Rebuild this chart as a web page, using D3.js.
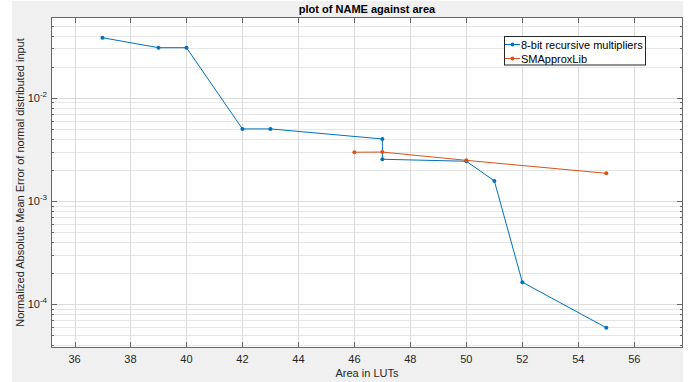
<!DOCTYPE html>
<html>
<head>
<meta charset="utf-8">
<script src="https://cdn.jsdelivr.net/npm/d3@7"></script>
<style>
  html, body { margin: 0; padding: 0; background: #fff; }
  svg { display: block; font-family: "Liberation Sans", Arial, sans-serif; }
</style>
</head>
<body>
<div id="chart"></div>
<script>
// data
const recursiveArea = [37, 39, 40, 42, 43, 47, 47, 50, 51, 52, 55];
const recursiveErr  = [0.0381, 0.0305, 0.0305, 0.00498, 0.00498, 0.00398, 0.00253, 0.00242, 0.00156, 0.000163, 0.0000589];
const smaArea = [46, 47, 50, 55];
const smaErr  = [0.00296, 0.00297, 0.00247, 0.00185];
const xTicks = [36, 38, 40, 42, 44, 46, 48, 50, 52, 54, 56];
const yTicks = [1e-4, 1e-3, 1e-2];
const seriesNames = ["8-bit recursive multipliers", "SMApproxLib"];
const seriesColors = ["#0072BD", "#D95319"];

const width = 697, height = 382;
// plot box edges
const pl = 51, pr = 683, pt = 17, pb = 348;

const svg = d3.select("#chart").append("svg")
  .attr("width", width)
  .attr("height", height);

// figure background
svg.append("rect")
  .attr("x", 12).attr("y", 1)
  .attr("width", pr - 12).attr("height", height - 1)
  .attr("fill", "#f0f0f0");

svg.append("rect")
  .attr("x", pl).attr("y", pt)
  .attr("width", pr - pl).attr("height", pb - pt)
  .attr("fill", "#fff");

const x = d3.scaleLinear().domain([35.16, 57.74]).range([pl, pr]);
const y = d3.scaleLog().domain([3.75e-5, 0.0605]).range([pb, pt]);

// minor log ticks
const minorTicks = [];
for (let e = -5; e <= -2; e++) {
  for (let m = 2; m <= 9; m++) {
    const v = m * Math.pow(10, e);
    if (v >= y.domain()[0] && v <= y.domain()[1]) minorTicks.push(v);
  }
}

const grid = svg.append("g");
grid.selectAll(".ymin").data(minorTicks).enter().append("line")
  .attr("x1", pl).attr("x2", pr)
  .attr("y1", d => Math.round(y(d)) + 0.5).attr("y2", d => Math.round(y(d)) + 0.5)
  .attr("stroke", "#e6e6e6");
grid.selectAll(".ymaj").data(yTicks).enter().append("line")
  .attr("x1", pl).attr("x2", pr)
  .attr("y1", d => Math.round(y(d)) + 0.5).attr("y2", d => Math.round(y(d)) + 0.5)
  .attr("stroke", "#dcdcdc");
grid.selectAll(".xmaj").data(xTicks).enter().append("line")
  .attr("y1", pt).attr("y2", pb)
  .attr("x1", d => Math.round(x(d)) + 0.5).attr("x2", d => Math.round(x(d)) + 0.5)
  .attr("stroke", "#dcdcdc");

// series
const series = [
  { xs: recursiveArea, ys: recursiveErr },
  { xs: smaArea, ys: smaErr }
];
const line = d3.line().x(d => x(d[0])).y(d => y(d[1]));
series.forEach((s, i) => {
  const pts = s.xs.map((v, j) => [v, s.ys[j]]);
  svg.append("path")
    .attr("d", line(pts))
    .attr("fill", "none")
    .attr("stroke", seriesColors[i])
    .attr("stroke-width", 1);
  svg.selectAll(".m" + i).data(pts).enter().append("circle")
    .attr("cx", d => x(d[0])).attr("cy", d => y(d[1]))
    .attr("r", 2)
    .attr("fill", seriesColors[i]);
});

// axes box and ticks
const axisColor = "#666";
const axes = svg.append("g").attr("fill", "none").attr("stroke", axisColor);
axes.append("rect")
  .attr("x", pl + 0.5).attr("y", pt + 0.5)
  .attr("width", pr - pl - 1).attr("height", pb - pt - 1);

xTicks.forEach(t => {
  const px = Math.round(x(t)) + 0.5;
  axes.append("line").attr("x1", px).attr("x2", px).attr("y1", pb).attr("y2", pb - 6);
  axes.append("line").attr("x1", px).attr("x2", px).attr("y1", pt).attr("y2", pt + 6);
});
yTicks.forEach(t => {
  const py = Math.round(y(t)) + 0.5;
  axes.append("line").attr("x1", pl).attr("x2", pl + 6).attr("y1", py).attr("y2", py);
  axes.append("line").attr("x1", pr).attr("x2", pr - 6).attr("y1", py).attr("y2", py);
});
minorTicks.forEach(t => {
  const py = Math.round(y(t)) + 0.5;
  axes.append("line").attr("x1", pl).attr("x2", pl + 3).attr("y1", py).attr("y2", py);
  axes.append("line").attr("x1", pr).attr("x2", pr - 3).attr("y1", py).attr("y2", py);
});

// tick labels
svg.selectAll(".xl").data(xTicks).enter().append("text")
  .attr("x", d => x(d)).attr("y", 363)
  .attr("text-anchor", "middle")
  .attr("font-size", 11)
  .attr("fill", "#262626")
  .text(d => d);

const yl = svg.selectAll(".yl").data(yTicks).enter().append("text")
  .attr("x", 47).attr("y", d => y(d) + 4)
  .attr("text-anchor", "end")
  .attr("font-size", 11)
  .attr("fill", "#262626");
yl.append("tspan").text("10");
yl.append("tspan").attr("dy", -5).attr("font-size", 8)
  .text(d => Math.round(Math.log10(d)));

// title and labels
svg.append("text")
  .attr("x", (pl + pr) / 2).attr("y", 13)
  .attr("text-anchor", "middle")
  .attr("font-size", 11).attr("font-weight", "bold")
  .attr("fill", "#000")
  .text("plot of NAME against area");

svg.append("text")
  .attr("x", (pl + pr) / 2).attr("y", 377)
  .attr("text-anchor", "middle")
  .attr("font-size", 11)
  .attr("fill", "#262626")
  .text("Area in LUTs");

svg.append("text")
  .attr("transform", "translate(24," + (pt + pb) / 2 + ") rotate(-90)")
  .attr("text-anchor", "middle")
  .attr("font-size", 11)
  .attr("fill", "#262626")
  .text("Normalized Absolute Mean Error of normal distributed input");

// legend
const legend = svg.append("g");
legend.append("rect")
  .attr("x", 504.5).attr("y", 36.5)
  .attr("width", 141).attr("height", 28.5)
  .attr("fill", "#fff").attr("stroke", "#262626");
seriesNames.forEach((name, i) => {
  const cy = 44.5 + i * 14;
  legend.append("line")
    .attr("x1", 505).attr("x2", 520).attr("y1", cy).attr("y2", cy)
    .attr("stroke", seriesColors[i]);
  legend.append("circle").attr("cx", 512.5).attr("cy", cy).attr("r", 2)
    .attr("fill", seriesColors[i]);
  legend.append("text")
    .attr("x", 521).attr("y", cy + 4)
    .attr("font-size", 11).attr("fill", "#000")
    .text(name);
});
</script>
</body>
</html>
